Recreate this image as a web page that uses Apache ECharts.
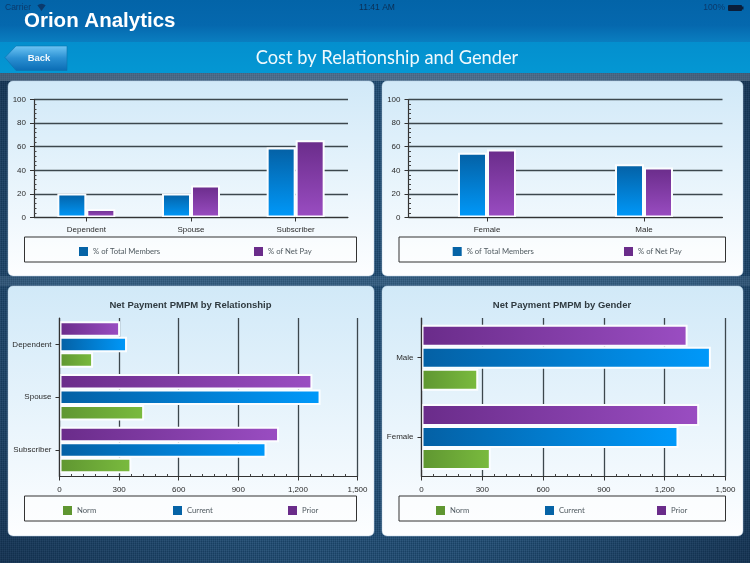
<!DOCTYPE html>
<html>
<head>
<meta charset="utf-8">
<style>
html,body{margin:0;padding:0;width:750px;height:563px;overflow:hidden;}
body{
  background-color:#1d4a72;
  background-image:
    radial-gradient(ellipse 520px 420px at 50% 55%, rgba(0,0,0,0) 60%, rgba(5,15,35,.45) 100%),
    repeating-linear-gradient(90deg, rgba(255,255,255,.05) 0 1px, rgba(0,0,0,.06) 1px 2px),
    repeating-linear-gradient(0deg, rgba(255,255,255,.03) 0 1px, rgba(0,0,0,.07) 1px 2px);
}
#c{position:absolute;left:0;top:0;width:750px;height:563px;}
</style>
<script src="https://cdn.jsdelivr.net/npm/echarts@6/dist/echarts.min.js"></script>
</head>
<body>
<div id="c"></div>
<script>
// ---- data ----
var relationshipCategories = ['Dependent', 'Spouse', 'Subscriber'];
var relTotalMembers = [20.4, 20.4, 59.3];
var relNetPay = [7.2, 27.2, 65.5];

var genderCategories = ['Female', 'Male'];
var genTotalMembers = [54.8, 45.2];
var genNetPay = [57.6, 42.4];

var pmpmRelCategories = ['Subscriber', 'Spouse', 'Dependent'];
var pmpmRelNorm = [362, 426, 169];
var pmpmRelCurrent = [1042, 1314, 340];
var pmpmRelPrior = [1105, 1273, 305];

var pmpmGenCategories = ['Female', 'Male'];
var pmpmGenNorm = [342, 280];
var pmpmGenCurrent = [1268, 1428];
var pmpmGenPrior = [1370, 1313];

var shareSeriesNames = ['% of Total Members', '% of Net Pay'];
var pmpmSeriesNames = ['Norm', 'Current', 'Prior'];
var titleRel = 'Net Payment PMPM by Relationship';
var titleGen = 'Net Payment PMPM by Gender';

// ---- style helpers ----
var SANS = '"Liberation Sans", Arial, sans-serif';
var FLAT = {Norm:'#5f9631', Current:'#0563a6', Prior:'#6a2c8a', '% of Total Members':'#0563a6', '% of Net Pay':'#6a2c8a'};
var RAMP = {
  Norm:['#5f9631','#7abb3e'],
  Current:['#0460a4','#0099fa'],
  Prior:['#6a2c8a','#9a4dc2'],
  '% of Total Members':['#0460a4','#0099fa'],
  '% of Net Pay':['#6a2c8a','#9a4dc2']
};
function ramp(name, horiz){
  return new echarts.graphic.LinearGradient(0,0,horiz?1:0,horiz?0:1,[
    {offset:0,color:RAMP[name][0]},{offset:1,color:RAMP[name][1]}]);
}
function valueAxisCfg(gi, max, interval, margin){
  return {
    type:'value', gridIndex:gi, min:0, max:max, interval:interval, z:0,
    axisLine:{show:true,lineStyle:{color:'#333',width:1.2}},
    axisTick:{show:true,length:4,lineStyle:{color:'#333',width:1}},
    minorTick:{show:true,splitNumber:5,length:-2.5,lineStyle:{color:'#444',width:1}},
    splitLine:{show:true,lineStyle:{color:'#3c474d',width:1.3}},
    axisLabel:{color:'#2b2b2b',fontFamily:SANS,fontSize:8,margin:margin}
  };
}
function catAxisCfg(gi, cats){
  return {
    type:'category', gridIndex:gi, data:cats, z:3,
    axisLine:{show:true,lineStyle:{color:'#333',width:1.2}},
    axisTick:{show:true,alignWithLabel:true,length:4,lineStyle:{color:'#333',width:1}},
    axisLabel:{color:'#2b2b2b',fontFamily:SANS,fontSize:8,margin:8}
  };
}
function barSeries(name, data, gi, horiz, width){
  return {
    type:'bar', name:name, data:data, xAxisIndex:gi, yAxisIndex:gi,
    barWidth:width, barGap:'0%', z:2, animation:false,
    itemStyle:{color:ramp(name,horiz),borderColor:'#fbfdff',borderWidth:2},
    emphasis:{disabled:true}
  };
}
function legendItem(name, x, y){
  return {
    left:x, top:y, padding:0, itemWidth:9, itemHeight:9, itemGap:0, selectedMode:false,
    icon:'rect', orient:'horizontal',
    data:[{name:name,itemStyle:{color:FLAT[name],borderWidth:0}}],
    textStyle:{color:'#505a60',fontFamily:'Lato, sans-serif',fontSize:7.7},
    formatter:function(n){return n;}
  };
}
function panel(x,y,w,h){
  return {type:'rect',z:-10,shape:{x:x,y:y,width:w,height:h,r:5},silent:true,
    style:{fill:new echarts.graphic.LinearGradient(0,0,0,1,[{offset:0,color:'#d1e9f8'},{offset:1,color:'#fdfeff'}]),stroke:'#b9cfe0',lineWidth:.5}};
}
function legendBox(x,y,w,h){
  return {type:'rect',z:-5,shape:{x:x,y:y,width:w,height:h},silent:true,
    style:{fill:'rgba(255,255,255,.45)',stroke:'#333',lineWidth:1}};
}
function label(x,y,text,font,fill,align){
  return {type:'text',z:10,x:x,y:y,silent:true,
    style:{text:text,font:font,fill:fill,align:align||'left',verticalAlign:'middle'}};
}

var graphics = [
  // lighter denim bands
  {type:'rect',z:-20,silent:true,shape:{x:0,y:73,width:750,height:8},style:{fill:'rgba(150,170,185,.35)'}},
  {type:'rect',z:-20,silent:true,shape:{x:0,y:276,width:750,height:10},style:{fill:'rgba(150,180,205,.16)'}},
  // header
  {type:'rect',z:-9,silent:true,shape:{x:0,y:0,width:750,height:42},
    style:{fill:new echarts.graphic.LinearGradient(0,0,0,1,[{offset:0,color:'#0364a8'},{offset:.6,color:'#0568ae'},{offset:1,color:'#0a7ec0'}])}},
  {type:'rect',z:-9,silent:true,shape:{x:0,y:42,width:750,height:31},
    style:{fill:new echarts.graphic.LinearGradient(0,0,0,1,[{offset:0,color:'#048fce'},{offset:1,color:'#0497d3'}])}},
  {type:'polygon',z:-8,silent:true,shape:{points:[[5,57.5],[16,46],[67,46],[67,70.5],[16,70.5]]},
    style:{fill:new echarts.graphic.LinearGradient(0,0,0,1,[{offset:0,color:'#6fc6f5'},{offset:.5,color:'#2a8fd2'},{offset:1,color:'#0a6cb4'}]),stroke:'#0b72ad',lineWidth:.6}},
  label(39,58,'Back','bold 9.5px '+SANS,'#f2f8fc','center'),
  label(24,21.5,'Orion Analytics','bold 20.5px '+SANS,'#ffffff'),
  label(387,58.5,'Cost by Relationship and Gender','18.3px Lato, sans-serif','#f0f9fd','center'),
  label(5,8,'Carrier','8.5px '+SANS,'#0b3a6c'),
  label(377,7.5,'11:41 AM','8.5px '+SANS,'#0b2f55','center'),
  label(725,8,'100%','8.5px '+SANS,'#0b3a6c','right'),
  {type:'rect',z:10,silent:true,shape:{x:728,y:5,width:14,height:6,r:1},style:{fill:'#0a1e3a'}},
  {type:'rect',z:10,silent:true,shape:{x:742,y:6.5,width:1.5,height:3},style:{fill:'#0a1e3a'}},
  {type:'sector',z:10,silent:true,shape:{cx:41.5,cy:11,r0:0,r:7,startAngle:-2.2,endAngle:-0.94},style:{fill:'#0b3a6c'}},
  // panels
  panel(8,81,366,195), panel(382,81,361,195), panel(8,286,366,250), panel(382,286,361,250),
  legendBox(24.5,237,332,25), legendBox(399,237,326.5,25),
  legendBox(24.5,496,332,25), legendBox(399,496,326.5,25),
  label(190.5,305.5,titleRel,'bold 9.5px '+SANS,'#2f3a40','center'),
  label(562,305.5,titleGen,'bold 9.5px '+SANS,'#2f3a40','center')
];

var option = {
  animation:false,
  backgroundColor:'transparent',
  grid:[
    {left:34,top:99.5,width:314,height:118},
    {left:408.5,top:99.5,width:314,height:118},
    {left:59.5,top:318,width:298,height:158.5},
    {left:421.5,top:318,width:304,height:158.5}
  ],
  xAxis:[
    catAxisCfg(0,relationshipCategories),
    catAxisCfg(1,genderCategories),
    valueAxisCfg(2,1500,300,9),
    valueAxisCfg(3,1500,300,9)
  ],
  yAxis:[
    valueAxisCfg(0,100,20,8),
    valueAxisCfg(1,100,20,8),
    catAxisCfg(2,pmpmRelCategories),
    catAxisCfg(3,pmpmGenCategories)
  ],
  legend:[
    legendItem(shareSeriesNames[0],79,247), legendItem(shareSeriesNames[1],254,247),
    legendItem(shareSeriesNames[0],452.7,247), legendItem(shareSeriesNames[1],624,247),
    legendItem(pmpmSeriesNames[0],63,506), legendItem(pmpmSeriesNames[1],173,506), legendItem(pmpmSeriesNames[2],288,506),
    legendItem(pmpmSeriesNames[0],436,506), legendItem(pmpmSeriesNames[1],545,506), legendItem(pmpmSeriesNames[2],657,506)
  ],
  series:[
    barSeries(shareSeriesNames[0],relTotalMembers,0,false,29),
    barSeries(shareSeriesNames[1],relNetPay,0,false,29),
    barSeries(shareSeriesNames[0],genTotalMembers,1,false,29),
    barSeries(shareSeriesNames[1],genNetPay,1,false,29),
    barSeries(pmpmSeriesNames[2],pmpmRelPrior,2,true,15.5),
    barSeries(pmpmSeriesNames[1],pmpmRelCurrent,2,true,15.5),
    barSeries(pmpmSeriesNames[0],pmpmRelNorm,2,true,15.5),
    barSeries(pmpmSeriesNames[2],pmpmGenPrior,3,true,22),
    barSeries(pmpmSeriesNames[1],pmpmGenCurrent,3,true,22),
    barSeries(pmpmSeriesNames[0],pmpmGenNorm,3,true,22)
  ],
  graphic:graphics
};
var chart = echarts.init(document.getElementById('c'),null,{renderer:'canvas',width:750,height:563});
chart.setOption(option);
</script>
</body>
</html>
